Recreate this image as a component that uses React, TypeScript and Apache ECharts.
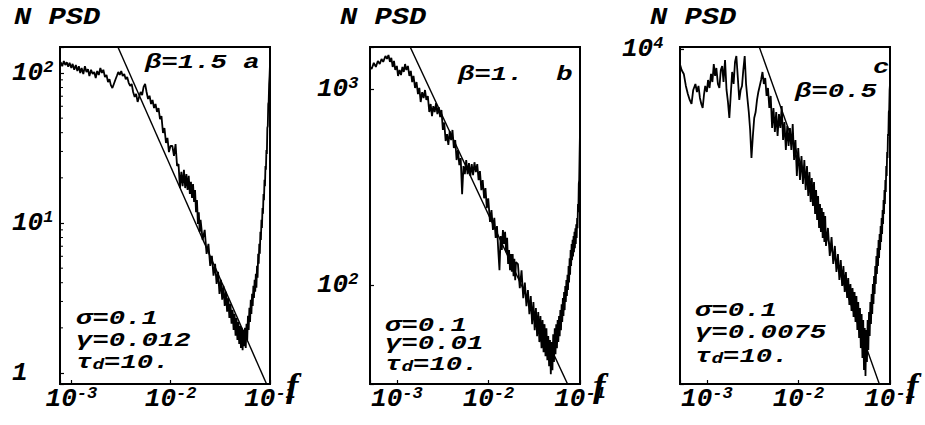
import React, { useEffect, useRef } from 'react';
import * as echarts from 'echarts';

// ---------- frequency grid (shared by the three panels) ----------
const freqLow = [0.0005, 0.00053, 0.00056, 0.00059, 0.00062, 0.00065, 0.00068, 0.00071, 0.00075, 0.00078,
  0.00081, 0.00084, 0.00087, 0.0009, 0.00093, 0.00096, 0.001, 0.00103, 0.00107, 0.00111,
  0.00115, 0.00119, 0.00123, 0.00127, 0.00132, 0.00137, 0.00142, 0.00147, 0.00152, 0.00158,
  0.00164, 0.0017, 0.00176, 0.00182, 0.00189, 0.00196, 0.00203, 0.0021, 0.00218, 0.00226,
  0.00234, 0.00242, 0.0025, 0.00259, 0.00268, 0.00277, 0.00287, 0.00297, 0.00307, 0.00318,
  0.00329, 0.00341, 0.00353, 0.00365, 0.00378, 0.00391, 0.00405, 0.00419, 0.00434, 0.00449,
  0.00465, 0.00481, 0.00498, 0.00516, 0.00534, 0.00553, 0.00572, 0.00592, 0.00613, 0.00635,
  0.00657, 0.0068, 0.00704, 0.00729, 0.00755, 0.00781, 0.00808, 0.00837, 0.00866, 0.00897,
  0.00928, 0.00961, 0.00995];
const freqMid = [0.0104, 0.0108, 0.0112, 0.0116, 0.012, 0.0124, 0.0128, 0.0132, 0.0136, 0.014,
  0.0144, 0.0148, 0.0152, 0.0156, 0.016, 0.0164, 0.0168, 0.0172, 0.0176, 0.018,
  0.0184, 0.0188, 0.0192, 0.0196, 0.02];
const freqHigh = [0.021, 0.022, 0.023, 0.024, 0.025, 0.026, 0.027, 0.028, 0.029, 0.03,
  0.031, 0.032, 0.033, 0.034, 0.035, 0.036, 0.037, 0.038, 0.039, 0.04,
  0.041, 0.042, 0.043, 0.044, 0.045, 0.046, 0.047, 0.048, 0.049, 0.05,
  0.051, 0.052, 0.053, 0.054, 0.055, 0.056, 0.057, 0.058, 0.059, 0.06,
  0.061, 0.062, 0.063, 0.064, 0.065, 0.066, 0.067, 0.068, 0.069, 0.07,
  0.071, 0.072, 0.073, 0.074, 0.075, 0.076, 0.077, 0.078, 0.079, 0.08,
  0.081, 0.082, 0.083, 0.084, 0.085, 0.086, 0.087, 0.088, 0.089, 0.09,
  0.091, 0.092, 0.093, 0.094, 0.095, 0.096, 0.097, 0.098, 0.099, 0.1];

// ---------- panel a (beta = 1.5) ----------
const psdALow = [null, null, null, null, null, null, null, null, null, 118,
  111, 120, 113, 118, 110, 117, 108, 115, 105, 113,
  103, 111, 100, 108, 98.5, 111, 101.5, 106, 95.5, 105,
  98.5, 101.5, 92.6, 103, 97, 108, 100, 105, 94, 97,
  87, 91, 83, 79.4, 84.5, 89.8, 95.5, 101.5, 97, 103,
  95.5, 98.5, 91, 94, 86, 82, 84.5, 74.7, 69.2, 72.5,
  64.1, 69.2, 74.7, 71.3, 80.7, 84.5, 74.7, 67.1, 70.5, 62.1,
  66.1, 58.4, 62.1, 55, 58.4, 49.3, 51.6, 39.8, 43, 34.2,
  36.9, 29.7, 32.6];
const psdAMid = [32.6, 28.0, 33.6, 24.0, 24.7, 17.1, 21.9, 17.6, 22.6, 17.1,
  21.2, 16.6, 20.6, 15.6, 18.8, 14.7, 18.2, 13.8, 16.6, 11.8,
  14.2, 9.87, 11.8, 8.73, 10.5];
const psdAHigh = [7.72, 9.0, 6.23, 7.26, 5.18, 6.04, 4.45, 5.35, 3.93, 4.73,
  3.37, 4.18, 3.08, 3.81, 2.80, 3.48, 2.56, 3.17, 2.33, 2.89,
  2.13, 2.64, 1.94, 2.48, 1.77, 2.33, 1.66, 2.19, 1.56, 2.06,
  1.47, 2.00, 1.42, 1.94, 1.51, 2.00, 1.47, 2.13, 1.66, 2.41,
  1.94, 2.72, 2.19, 3.08, 2.48, 3.37, 2.80, 3.81, 3.17, 4.18,
  3.48, 4.59, 3.70, 5.18, 4.31, 6.23, 5.35, 7.26, 6.23, 8.73,
  7.72, 10.5, 9.28, 12.6, 11.5, 15.6, 14.2, 19.4, 17.6, 24.0,
  22.6, 30.7, 28.8, 43.0, 44.3, 62.1, 64.1, 84.5, 95.5, 114.8];

// ---------- panel b (beta = 1) ----------
const psdBLow = [1310, 1265, 1358, 1295, 1390, 1340, 1423, 1374, 1473, 1423,
  1491, 1374, 1440, 1295, 1390, 1250, 1310, 1165, 1250, 1178,
  1295, 1221, 1340, 1250, 1310, 1165, 1236, 1085, 1165, 1012,
  1085, 942, 1012, 858, 964, 899, 988, 879, 920, 763,
  838, 727, 818, 763, 848, 745, 808, 718, 781, 618,
  675, 543, 589, 518, 610, 549, 618, 500, 549, 434,
  488, 409, 444, 291, 404, 368, 434, 368, 419, 360,
  414, 364, 423, 377, 414, 343, 381, 305, 343, 277,
  312, 247, 277];
const psdBMid = [210, 241, 191, 220, 174, 200, 151, 119, 178, 151,
  191, 162, 187, 147, 174, 128, 151, 119, 144, 117,
  144, 111, 136, 106, 131];
const psdBHigh = [128, 96.5, 119, 85.8, 103, 78.1, 94.3, 71.1, 87.9, 63.2,
  81.9, 58.9, 76.3, 54.9, 72.8, 51.2, 69.5, 47.7, 66.3, 45.5,
  63.2, 43.4, 60.3, 41.4, 54.9, 38.6, 52.4, 35.1, 51.2, 36.8,
  56.2, 40.5, 60.3, 44.4, 63.2, 47.7, 66.3, 51.2, 69.5, 54.9,
  74.5, 58.9, 79.9, 64.8, 85.8, 69.5, 92.1, 74.5, 98.8, 81.9,
  106, 87.9, 113, 94.3, 125, 103, 137, 113, 151, 125,
  162, 134, 170, 140, 178, 147, 187, 154, 195, 162,
  204, 174, 220, 195, 259, 235, 328, 343, 465, 604];

// ---------- panel c (beta = 0.5) ----------
const psdCLow = [9434, 9103, 8942, 8474, 8175, 7959, 7817, 8323, 8550, 8249,
  8474, 8030, 7817, 7678, 8139, 8474, 8249, 8704, 8398, 8942,
  8627, 9351, 8862, 9185, 8550, 8398, 9103, 9267, 8627, 9519,
  8323, 7888, 7342, 8103, 9022, 8550, 9434, 9692, 8782, 7959,
  8323, 8474, 9103, 9692, 8550, 8030, 7542, 6958, 6138, 6774,
  7342, 7542, 7959, 8249, 8474, 8704, 9022, 8550, 8782, 8103,
  8398, 7678, 8103, 7020, 7678, 6896, 7542, 6774, 7475, 7020,
  7747, 6653, 7212, 6362, 7084, 6477, 7020, 6362, 7148, 6083,
  6653, 5663, 6419];
const psdCMid = [5562, 6193, 5463, 6083, 5318, 5921, 5177, 5765, 5040, 5612,
  4951, 5513, 4774, 5318, 4650, 5177, 4486, 4995, 4406, 4906,
  4289, 4820, 4213, 4732, 4139];
const psdCHigh = [4486, 3957, 4308, 3818, 4139, 3683, 3993, 3554, 3887, 3459,
  3784, 3368, 3683, 3278, 3586, 3177, 3491, 3093, 3429, 3011,
  3368, 2944, 3308, 2840, 3220, 2740, 3135, 2619, 3052, 2505,
  2971, 2374, 2866, 2311, 2840, 2461, 2971, 2596, 3079, 2765,
  3220, 2917, 3338, 3052, 3491, 3191, 3618, 3338, 3784, 3491,
  3957, 3650, 4101, 3784, 4251, 3922, 4367, 4065, 4527, 4213,
  4692, 4367, 4863, 4567, 5085, 4774, 5318, 4995, 5562, 5271,
  5921, 5663, 6305, 6138, 6835, 6774, 7542, 7610, 8323, 8550];

// ---------- fitted power laws (two end points each, clipped by the frame) ----------
const fitA = [[0.002, 266], [0.1, 0.75]];
const fitB = [[0.0008, 2860], [0.1, 22.9]];
const fitC = [[0.002, 13790], [0.1, 1950]];

// ---------- axis ranges and tick labels ----------
const xRangeA = [0.000769, 0.1];
const xRangeBC = [0.000509, 0.1];
const yRangeA = [0.845, 149];
const yRangeB = [31.3, 1637];
const yRangeC = [2230, 10090];
const xTickValues = [0.001, 0.01, 0.1];
const xTickExponents = [-3, -2, -1];
const yTickValuesA = [1, 10, 100];
const yTickExponentsA = [0, 1, 2];
const yTickValuesB = [100, 1000];
const yTickExponentsB = [2, 3];
const yTickValuesC = [10000];
const yTickExponentsC = [4];
const minorTicksA = [2, 3, 4, 5, 6, 7, 8, 9, 20, 30, 40, 50, 60, 70, 80, 90];

const MONO = "'Liberation Mono', 'DejaVu Sans Mono', monospace";
const SERIF = "'Liberation Serif', 'DejaVu Serif', serif";

function zip(fs: number[], ps: (number | null)[]) {
  const out: number[][] = [];
  const n = Math.min(fs.length, ps.length);
  for (let i = 0; i < n; i++) {
    const p = ps[i];
    if (p != null) out.push([fs[i], p]);
  }
  return out;
}

function makeFormatter(values: number[], exps: number[]) {
  return (v: number) => {
    for (let i = 0; i < values.length; i++) {
      if (Math.abs(Math.log10(v) - Math.log10(values[i])) < 1e-6) {
        return exps[i] === 0 ? '{b|1}' : '{b|10}{s|' + exps[i] + '}';
      }
    }
    return '';
  };
}

const rich = {
  b: { fontFamily: MONO, fontSize: 26, fontWeight: 'bold', fontStyle: 'italic', color: '#000', lineHeight: 28 },
  s: { fontFamily: MONO, fontSize: 17, fontWeight: 'bold', fontStyle: 'italic', color: '#000', lineHeight: 13, verticalAlign: 'top' },
};

function txt(text: string, x: number, y: number, opts: any = {}) {
  return {
    type: 'text',
    x,
    y,
    scaleX: opts.scaleX ?? 1.3,
    silent: true,
    style: {
      text,
      fontFamily: opts.fontFamily ?? MONO,
      fontSize: opts.fontSize ?? 21,
      fontStyle: 'italic',
      fontWeight: opts.fontWeight ?? 'bold',
      fill: '#000',
      align: 'left',
      verticalAlign: 'middle',
      rich: opts.rich,
    },
  };
}

function tauText(x: number, y: number) {
  return txt('{t|τ}{d|d}{t|=10.}', x, y, {
    rich: {
      t: { fontFamily: MONO, fontSize: 21, fontStyle: 'italic', fontWeight: 'bold', fill: '#000', lineHeight: 22 },
      d: { fontFamily: MONO, fontSize: 15, fontStyle: 'italic', fontWeight: 'bold', fill: '#000', lineHeight: 12, verticalAlign: 'bottom' },
    },
  });
}

export default function App() {
  const ref = useRef<HTMLDivElement>(null);

  useEffect(() => {
    if (!ref.current) return;
    const chart = echarts.init(ref.current, null, { renderer: 'svg' });

    const panels = [
      { left: 60, xr: xRangeA, yr: yRangeA, yv: yTickValuesA, ye: yTickExponentsA, margin: 48,
        data: [...zip(freqLow, psdALow), ...zip(freqMid, psdAMid), ...zip(freqHigh, psdAHigh)], fit: fitA },
      { left: 370, xr: xRangeBC, yr: yRangeB, yv: yTickValuesB, ye: yTickExponentsB, margin: 53,
        data: [...zip(freqLow, psdBLow), ...zip(freqMid, psdBMid), ...zip(freqHigh, psdBHigh)], fit: fitB },
      { left: 680, xr: xRangeBC, yr: yRangeC, yv: yTickValuesC, ye: yTickExponentsC, margin: 58,
        data: [...zip(freqLow, psdCLow), ...zip(freqMid, psdCMid), ...zip(freqHigh, psdCHigh)], fit: fitC },
    ];

    const tickStyle = { show: true, inside: true, length: 4, lineStyle: { color: '#000', width: 1.2 } };

    const series: any[] = [];
    panels.forEach((p, i) => {
      series.push({
        type: 'line', xAxisIndex: i, yAxisIndex: i, data: p.data, symbol: 'none', showSymbol: false,
        lineStyle: { color: '#000', width: 1.8 }, silent: true, clip: true,
      });
      series.push({
        type: 'line', xAxisIndex: i, yAxisIndex: i, data: p.fit, symbol: 'none', showSymbol: false,
        lineStyle: { color: '#000', width: 1.4 }, silent: true, clip: true,
      });
    });
    series.push({
      type: 'custom', xAxisIndex: 0, yAxisIndex: 0, silent: true, clip: false,
      data: minorTicksA.map((v) => [xRangeA[0], v]),
      renderItem: (_params: any, api: any) => {
        const pt = api.coord([api.value(0), api.value(1)]);
        return {
          type: 'line',
          shape: { x1: pt[0], y1: pt[1], x2: pt[0] + 3, y2: pt[1] },
          style: { stroke: '#000', lineWidth: 1 },
        };
      },
    });

    const option: any = {
      animation: false,
      backgroundColor: '#fff',
      grid: panels.map((p) => ({
        left: p.left, top: 47, width: 210, height: 337, show: true,
        borderColor: '#000', borderWidth: 2, backgroundColor: 'transparent',
      })),
      xAxis: panels.map((p, i) => ({
        type: 'log', logBase: 10, gridIndex: i, min: p.xr[0], max: p.xr[1],
        axisLine: { show: false }, splitLine: { show: false }, axisTick: tickStyle,
        axisLabel: {
          margin: 1, formatter: makeFormatter(xTickValues, xTickExponents), rich,
          fontFamily: MONO, fontWeight: 'bold', fontStyle: 'italic', fontSize: 26, color: '#000',
        },
      })),
      yAxis: panels.map((p, i) => ({
        type: 'log', logBase: 10, gridIndex: i, min: p.yr[0], max: p.yr[1],
        axisLine: { show: false }, splitLine: { show: false }, axisTick: tickStyle,
        axisLabel: {
          margin: p.margin, align: 'left', formatter: makeFormatter(p.yv, p.ye), rich,
          fontFamily: MONO, fontWeight: 'bold', fontStyle: 'italic', fontSize: 26, color: '#000',
        },
      })),
      series,
      graphic: [
        txt('N PSD', 14, 18, { fontSize: 24, scaleX: 1.2 }),
        txt('N PSD', 340, 18, { fontSize: 24, scaleX: 1.2 }),
        txt('N PSD', 650, 18, { fontSize: 24, scaleX: 1.2 }),
        txt('β=1.5 a', 145, 62),
        txt('β=1.  b', 458, 74),
        txt('c', 873, 67),
        txt('β=0.5', 795, 91),
        txt('σ=0.1', 76, 318),
        txt('γ=0.012', 76, 340),
        tauText(76, 362),
        txt('σ=0.1', 385, 325),
        txt('γ=0.01', 385, 343),
        tauText(385, 364),
        txt('σ=0.1', 695, 310),
        txt('γ=0.0075', 695, 332),
        tauText(695, 356),
        txt('f', 286, 386, { fontFamily: SERIF, fontSize: 34, scaleX: 1.1 }),
        txt('f', 593, 386, { fontFamily: SERIF, fontSize: 34, scaleX: 1.1 }),
        txt('f', 906, 386, { fontFamily: SERIF, fontSize: 34, scaleX: 1.1 }),
      ],
    };

    chart.setOption(option);
    return () => chart.dispose();
  }, []);

  return (
    <div
      ref={ref}
      style={{ position: 'absolute', left: 0, top: 0, width: 925, height: 425, background: '#fff' }}
    />
  );
}
